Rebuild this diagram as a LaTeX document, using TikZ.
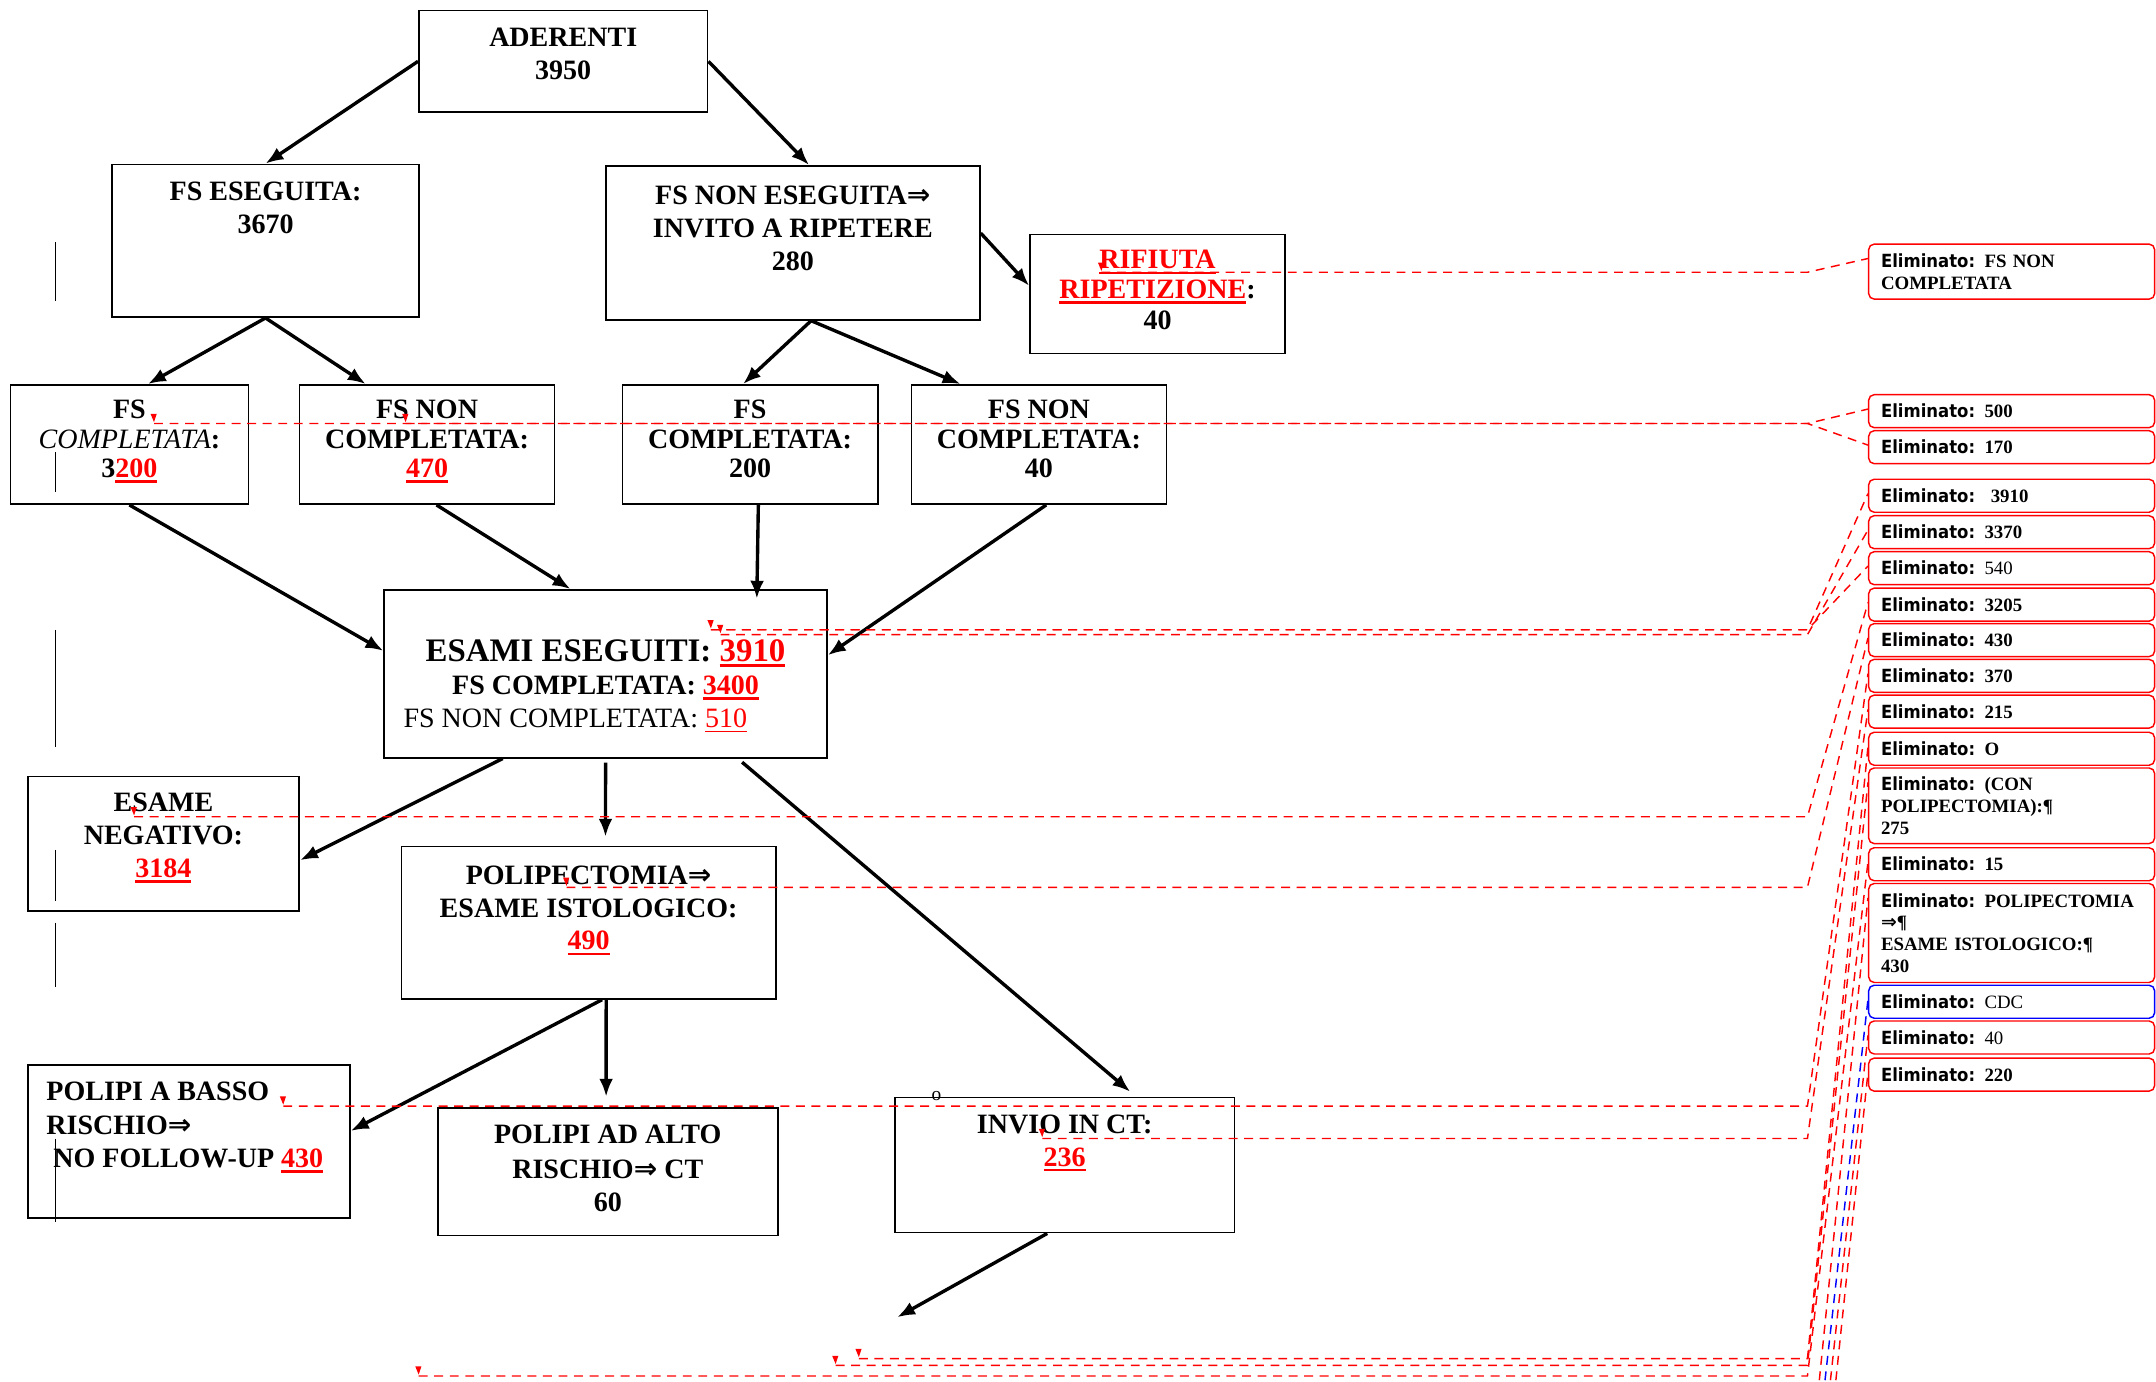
\documentclass[tikz,border=0pt]{standalone}
\usepackage{fontspec}
\setmainfont{Liberation Serif}
\newfontfamily\balfont{DejaVu Sans}[FakeStretch=0.91]
\newfontfamily\symf{DejaVu Sans}
\usetikzlibrary{arrows.meta,positioning}
\newlength{\pxu}\setlength{\pxu}{0.02cm}
\newsavebox{\insbox}
\newcommand{\ulr}[2]{\textcolor{red}{\sbox{\insbox}{#2}\rlap{\rule[-2.2pt]{\wd\insbox}{#1}}\usebox{\insbox}}}
\newcommand{\ins}[1]{\ulr{1.1pt}{#1}}
\newcommand{\insl}[1]{\ulr{0.6pt}{#1}}
\newcommand{\bx}[4][26]{\parbox[c][#3\pxu][t]{#2\pxu}{\centering\rule{0pt}{#1\pxu}#4}}
\newcommand{\el}{{\balfont\bfseries\fontsize{7.5}{9}\selectfont Eliminato:} }
\begin{document}
\begin{tikzpicture}[x=0.02cm, y=-0.02cm, >={Latex[length=0.26cm,width=0.2cm]},
  box/.style={draw, line width=0.7pt, inner sep=0pt, anchor=north west,
    font=\fontsize{11.6}{13.6}\selectfont\bfseries},
  flow/.style={->, line width=1.4pt},
  comm/.style={red, line width=0.6pt, dash pattern=on 0.13cm off 0.096cm},
  balloon/.style={draw=red, line width=0.6pt, rounded corners=0.08cm, anchor=north west,
    text width=3.8cm, inner xsep=0.18cm, inner ysep=0pt, align=left,
    minimum height=0.48cm, font=\fontsize{7.8}{9}\selectfont},
  chbar/.style={line width=0.6pt}]
\clip (0,0) rectangle (1568,1005);
%boxes
\node[box] (aderenti) at (304,7) {\bx{210}{74}{ADERENTI\\3950}};
\node[box] (fsesg) at (81,119) {\bx{223}{111}{FS ESEGUITA:\\3670}};
\node[box] (fsnon) at (440,120) {\bx[28]{272}{112}{FS NON ESEGUITA{\symf ⇒}\\INVITO A RIPETERE\\280}};
\node[box] (rifiuta) at (748.5,170) {\bx[25]{185.5}{86.5}{\ins{RIFIUTA}\\[-2.5\pxu]\ins{RIPETIZIONE}:\\[-1\pxu]40}};
\node[box] (fsc1) at (7,279.3) {\bx[24.5]{173}{86.7}{FS\\[-2.5\pxu]{\mdseries\itshape COMPLETATA}:\\[-2.3\pxu]3\ins{200}}};
\node[box] (fsn1) at (217.3,279.3) {\bx[24.5]{185.3}{86.7}{FS NON\\[-2.5\pxu]COMPLETATA:\\[-2.3\pxu]\ins{470}}};
\node[box] (fsc2) at (452,279.3) {\bx[24.5]{185.8}{86.7}{FS\\[-2.5\pxu]COMPLETATA:\\[-2.3\pxu]200}};
\node[box] (fsn2) at (662.2,279.3) {\bx[24.5]{185.5}{86.7}{FS NON\\[-2.5\pxu]COMPLETATA:\\[-2.3\pxu]40}};
\node[box] (esami) at (278.8,428.4) {\bx[52]{322}{122}{{\fontsize{13.6}{13.6}\selectfont ESAMI ESEGUITI: \ins{3910}}\\FS COMPLETATA: \ins{3400}\\{\mdseries FS NON COMPLETATA: \insl{510}}\rule{44\pxu}{0pt}}};
\node[box] (esneg) at (19.5,564) {\bx[25.7]{197.5}{98}{ESAME\\NEGATIVO:\\\ins{3184}}};
\node[box] (polip) at (291.3,615) {\bx[27.4]{272.3}{110.8}{POLIPECTOMIA{\symf ⇒}\\ESAME ISTOLOGICO:\\\ins{490}}};
\node[box] (basso) at (19.9,773.8) {\parbox[c][111.5\pxu][t]{234\pxu}{\raggedright\leftskip=13.3\pxu\rule{0pt}{25.7\pxu}POLIPI A BASSO\\[1\pxu]RISCHIO{\symf ⇒}\\\hspace*{5\pxu}NO FOLLOW-UP \ins{430}}};
\node[box] (alto) at (317.8,805) {\bx{247.2}{92.8}{POLIPI AD ALTO\\[1.5\pxu]RISCHIO{\symf ⇒} CT\\60}};
\node[box] (invio) at (650.1,797.6) {\bx{247.2}{98.2}{INVIO IN CT:\\\ins{236}}};
\node[inner sep=0pt, font=\fontsize{8}{8}\selectfont] (omark) at (681,797) {o};
%arrows
\draw[flow] (aderenti.west) -- (fsesg.north);
\draw[flow] (aderenti.east) -- ([xshift=11.8\pxu]fsnon.north);
\draw[flow] (fsesg.south) -- ([xshift=13.5\pxu]fsc1.north);
\draw[flow] (fsesg.south) -- ([xshift=-44.6\pxu]fsn1.north);
\draw[flow] ([xshift=13.3\pxu]fsnon.south) -- ([xshift=-5.1\pxu]fsc2.north);
\draw[flow] ([xshift=13.3\pxu]fsnon.south) -- ([xshift=-57\pxu]fsn2.north);
\draw[flow] ([yshift=-49.5\pxu]fsnon.north east) -- ([yshift=6\pxu]rifiuta.west);
\draw[flow] (fsc1.south) -- ([yshift=16.7\pxu]esami.west);
\draw[flow] ([xshift=6.9\pxu]fsn1.south) -- ([xshift=-25.5\pxu]esami.north);
\draw[flow] ([xshift=6\pxu]fsc2.south) -- ([xshift=110\pxu,yshift=-7\pxu]esami.north);
\draw[flow] ([xshift=5.3\pxu]fsn2.south) -- ([yshift=13.5\pxu]esami.east);
\draw[flow] ([xshift=-74.8\pxu]esami.south) -- ([yshift=-12\pxu]esneg.east);
\draw[flow] ([yshift=-3\pxu]esami.south) -- ([xshift=12.3\pxu,yshift=6.5\pxu]polip.north);
\draw[flow] ([xshift=99.3\pxu,yshift=-2.7\pxu]esami.south) -- ([xshift=47.7\pxu,yshift=3.6\pxu]invio.north);
\draw[flow] ([xshift=9.8\pxu]polip.south) -- ([yshift=7.7\pxu]basso.east);
\draw[flow] ([xshift=12.8\pxu]polip.south) -- ([xshift=-1.2\pxu,yshift=7.4\pxu]alto.north);
\coordinate (ctout) at (652.5,958);
\draw[flow] ([xshift=-12.7\pxu]invio.south) -- (ctout);
%change bars
\foreach \a/\b in {176/219,329/358,458/543,618/655,671/718,828/889}
  \draw[chbar] (40.5,\a) -- (40.5,\b);
%balloons
\node[balloon, minimum height=0.8cm] (bfsnon) at (1358.5,177) {\el\textbf{FS NON}\\\textbf{COMPLETATA}};
\node[balloon] (b500) at (1358.5,286.5) {\el\textbf{500}};
\node[balloon] (b170) at (1358.5,312.7) {\el\textbf{170}};
\node[balloon] (b3910) at (1358.5,348) {\el\ \textbf{3910}};
\node[balloon] (b3370) at (1358.5,374.5) {\el\textbf{3370}};
\node[balloon] (b540) at (1358.5,400.7) {\el 540};
\node[balloon] (b3205) at (1358.5,427.2) {\el\textbf{3205}};
\node[balloon] (b430) at (1358.5,453) {\el\textbf{430}};
\node[balloon] (b370) at (1358.5,479) {\el\textbf{370}};
\node[balloon] (b215) at (1358.5,505) {\el\textbf{215}};
\node[balloon] (bzero) at (1358.5,532) {\el\textbf{O}};
\node[balloon, minimum height=1.1cm] (bcon) at (1358.5,558) {\el\textbf{(CON}\\\textbf{POLIPECTOMIA):¶}\\\textbf{275}};
\node[balloon] (bquin) at (1358.5,616) {\el\textbf{15}};
\node[balloon, minimum height=1.44cm] (bpolip) at (1358.5,642) {\el\textbf{POLIPECTOMIA}\\\textbf{{\symf ⇒}¶}\\\textbf{ESAME ISTOLOGICO:¶}\\\textbf{430}};
\node[balloon, draw=blue] (bcdc) at (1358.5,716) {\el CDC};
\node[balloon] (b40) at (1358.5,742) {\el 40};
\node[balloon] (b220) at (1358.5,769) {\el\textbf{220}};
%markers
\coordinate (bend) at (1314.5,0);
\coordinate (mrif) at (801,198);
\coordinate (mfsa) at (112,308);
\coordinate (mfsb) at (295,308);
\coordinate (mesa) at (517,458);
\coordinate (mesb) at (524,461.5);
\coordinate (mneg) at (97.5,594);
\coordinate (mpol) at (412,645.3);
\coordinate (mbas) at (206,804.4);
\coordinate (minv) at (758,828);
\coordinate (mbta) at (624.6,988);
\coordinate (mbtb) at (607.7,993);
\coordinate (mbtc) at (304.5,1000.7);
\foreach \m in {mrif,mfsa,mfsb,mesa,mesb,mneg,mpol,mbas,minv,mbta,mbtb,mbtc}
  \fill[red] (\m) +(-2.5,-7) -- +(2,-7) -- +(0,-1) -- cycle;
%comment lines
\foreach \m/\b in {mrif/bfsnon,mfsa/b500,mfsb/b170,mesa/b3910,mesb/b3370,mesa/b540,mneg/b3205,mpol/b430,mbas/b370,minv/b215,mbta/bzero,mbtb/bcon,mbtc/bquin}
  \draw[comm] (\m) -- (\m -| bend) -- ([yshift=-11\pxu]\b.north west);
\coordinate (lowa) at (1322,1015);
\coordinate (lowb) at (1326,1015);
\coordinate (lowc) at (1330,1015);
\coordinate (lowd) at (1334,1015);
\draw[comm] (lowa) -- ([yshift=-11\pxu]bpolip.north west);
\draw[comm, blue] (lowb) -- ([yshift=-11\pxu]bcdc.north west);
\draw[comm] (lowc) -- ([yshift=-11\pxu]b40.north west);
\draw[comm] (lowd) -- ([yshift=-11\pxu]b220.north west);
\end{tikzpicture}
\end{document}
